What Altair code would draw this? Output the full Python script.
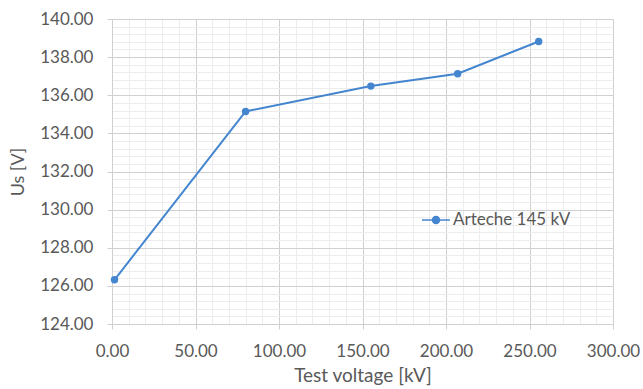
import altair as alt
import pandas as pd

test_voltage = [1.5, 80.0, 155.0, 207.0, 255.5]
us_values = [126.32, 135.15, 136.48, 137.13, 138.82]
series_name = ["Arteche 145 kV"] * 5

x_major = [0, 50, 100, 150, 200, 250, 300]
y_major = [124, 126, 128, 130, 132, 134, 136, 138, 140]
x_minor = list(range(0, 301, 10))
y_minor = [round(124 + 0.4 * i, 1) for i in range(41)]

df = pd.DataFrame({"x": test_voltage, "y": us_values, "s": series_name})

FONT = "Lato"
GREY = "#595959"
BLUE = "#4485d0"

xs = alt.Scale(domain=[0, 300], nice=False, zero=False)
ys = alt.Scale(domain=[124, 140], nice=False, zero=False)

minor = alt.Chart(df).mark_point(opacity=0).encode(
    x=alt.X("x:Q", scale=xs, axis=alt.Axis(orient="top", values=x_minor, labels=False, ticks=False,
                                            domain=False, title=None, grid=True, gridColor="#ececec", gridWidth=1)),
    y=alt.Y("y:Q", scale=ys, axis=alt.Axis(orient="right", values=y_minor, labels=False, ticks=False,
                                            domain=False, title=None, grid=True, gridColor="#ececec", gridWidth=1)),
)

main = alt.Chart(df).mark_line(
    point=alt.OverlayMarkDef(filled=True, size=55, color=BLUE), strokeWidth=2
).encode(
    x=alt.X("x:Q", scale=xs, axis=alt.Axis(
        orient="bottom", values=x_major, format=".2f", title="Test voltage [kV]",
        grid=True, gridColor="#d0d0d0", domainColor="#d0d0d0", tickColor="#d0d0d0", tickSize=5,
        labelFont=FONT, labelFontSize=17, labelColor=GREY, labelPadding=14, labelFlush=False, labelOverlap=False,
        titleFont=FONT, titleFontSize=19, titleColor=GREY, titleFontWeight="normal", titlePadding=7)),
    y=alt.Y("y:Q", scale=ys, axis=alt.Axis(
        orient="left", values=y_major, format=".2f", title="Us [V]",
        grid=True, gridColor="#d0d0d0", domainColor="#d0d0d0", tickColor="#d0d0d0", tickSize=5,
        labelFont=FONT, labelFontSize=17, labelColor=GREY, labelPadding=14, labelFlush=False, labelOverlap=False,
        titleFont=FONT, titleFontSize=18, titleColor=GREY, titleFontWeight="normal", titlePadding=12)),
    color=alt.Color("s:N", scale=alt.Scale(range=[BLUE]), legend=alt.Legend(
        title=None, orient="none", legendX=309, legendY=186,
        symbolType="M-1,0L1,0M-0.25,0A0.25,0.25 0 1,1 0.25,0A0.25,0.25 0 1,1 -0.25,0",
        symbolSize=784, symbolStrokeWidth=1.5, symbolFillColor=BLUE, symbolStrokeColor=BLUE,
        labelFont=FONT, labelFontSize=17, labelColor=GREY, labelOffset=2)),
)

chart = alt.layer(minor, main).resolve_axis(x="independent", y="independent").properties(
    width=501, height=305,
    padding={"left": 112, "top": 19, "right": 30, "bottom": 65},
    autosize=alt.AutoSizeParams(type="none"),
).configure_view(stroke="#d0d0d0")

chart.save("out.html", embed_options={"renderer": "svg", "actions": False})
